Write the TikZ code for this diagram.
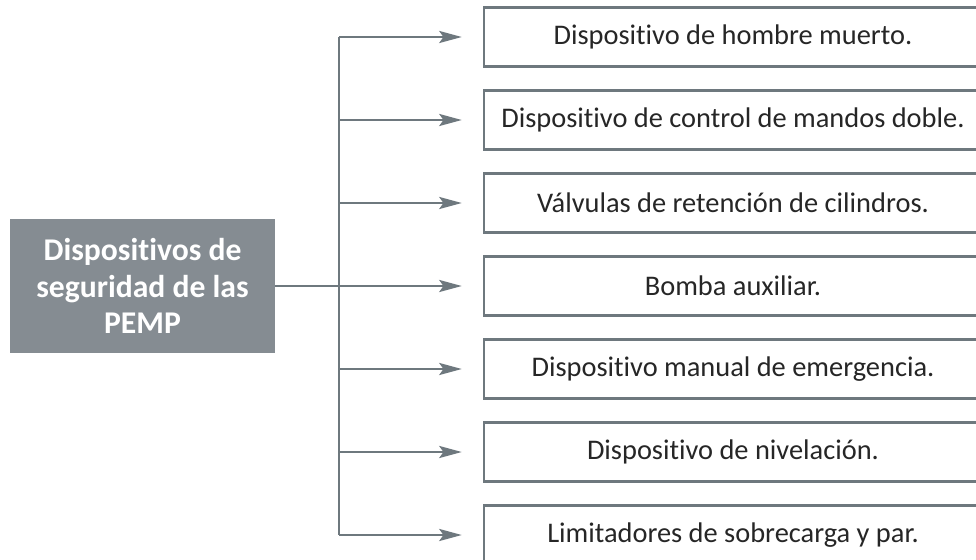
\documentclass[tikz,border=0pt]{standalone}
\usepackage{fontspec}
\setmainfont{Carlito}[Ligatures={NoCommon}]
\usetikzlibrary{arrows.meta,positioning,calc}
\definecolor{boxgray}{HTML}{858C92}
\definecolor{linegray}{HTML}{6E787E}
\definecolor{txtdark}{HTML}{262626}

\begin{document}
\begin{tikzpicture}[x=0.025cm,y=-0.025cm,
    mainbox/.style={fill=boxgray,draw=none,minimum width=265*0.025cm,minimum height=134*0.025cm,
      text=white,font=\fontsize{22.5}{26}\selectfont\bfseries,align=center,inner sep=0pt},
    itembox/.style={draw=linegray,line width=1.7pt,fill=white,minimum width=498*0.025cm,
      minimum height=59*0.025cm,text=txtdark,font=\fontsize{20.2}{24}\selectfont,inner sep=0pt},
    branch/.style={linegray,line width=2pt},
    arrowline/.style={branch,-{Stealth[length=16pt,width=8.5pt,inset=3pt]},shorten >=21*0.025cm}]
        \clip (0,0) rectangle (976,560);
        \fill[white] (0,0) rectangle (976,560);
        \node[mainbox] (main) at (142.5,286) {Dispositivos de\\seguridad de las\\PEMP};
        \foreach \i/\txt in {1/Dispositivo de hombre muerto.,2/Dispositivo de control de mandos doble.,
            3/Válvulas de retención de cilindros.,4/Bomba auxiliar.,5/Dispositivo manual de emergencia.,
            6/Dispositivo de nivelación.,7/Limitadores de sobrecarga y par.} {
          \node[itembox] (b\i) at (733,{37+83*(\i-1)}) {\txt};
          \coordinate (t\i) at (339,{37+83*(\i-1)});
          \draw[arrowline] (t\i) -- (b\i.west);
        }
        \draw[branch] (t1) -- (t7);
        \draw[branch] (main.east) -- (main.east -| t1);
      \end{tikzpicture}
\end{document}
